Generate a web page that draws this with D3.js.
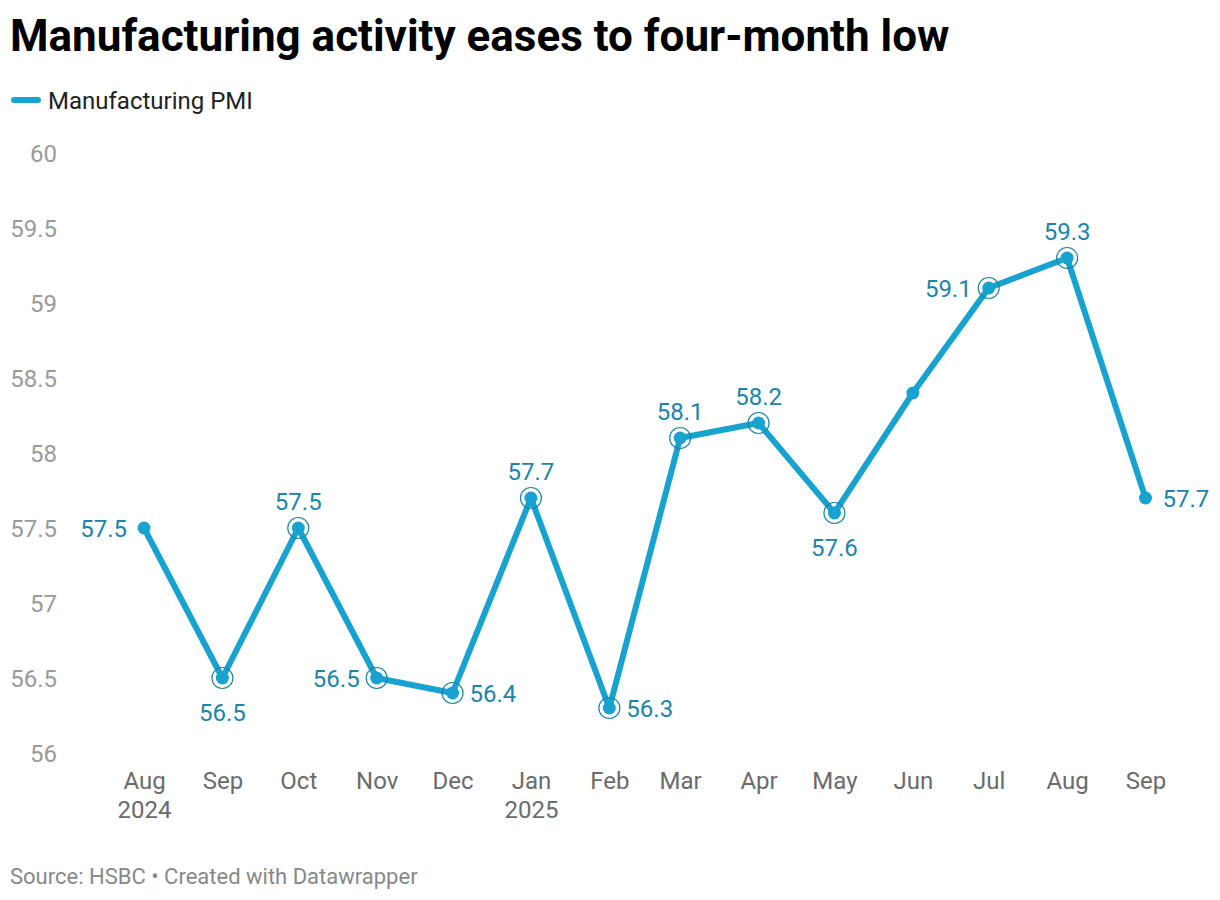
<!DOCTYPE html>
<html>
<head>
<meta charset="utf-8">
<script src="https://cdn.jsdelivr.net/npm/d3@7"></script>
<style>
  html, body { margin: 0; padding: 0; background: #fff; }
  svg { display: block; font-family: Roboto, "Noto Sans", sans-serif; }
</style>
</head>
<body>
<svg id="chart" width="1220" height="900"></svg>
<script>
// ---- data ----
const months = ["2024-08","2024-09","2024-10","2024-11","2024-12","2025-01","2025-02","2025-03","2025-04","2025-05","2025-06","2025-07","2025-08","2025-09"];
const pmi = [57.5, 56.5, 57.5, 56.5, 56.4, 57.7, 56.3, 58.1, 58.2, 57.6, 58.4, 59.1, 59.3, 57.7];
// label placement per point ("" = no label)
const labelPos = ["left","below","above","left","right","above","right","above","above","below","","left","above","right"];
// points highlighted with an outer ring
const ringed = [false,true,true,true,true,true,true,true,true,true,false,true,true,false];
const xTickLabels = [["Aug","2024"],["Sep"],["Oct"],["Nov"],["Dec"],["Jan","2025"],["Feb"],["Mar"],["Apr"],["May"],["Jun"],["Jul"],["Aug"],["Sep"]];
const yTicks = [56, 56.5, 57, 57.5, 58, 58.5, 59, 59.5, 60];
const title = "Manufacturing activity eases to four-month low";
const legendLabel = "Manufacturing PMI";
const footer = "Source: HSBC \u2022 Created with Datawrapper";

const parse = d3.timeParse("%Y-%m");
const data = months.map((m, i) => ({ date: parse(m), value: pmi[i], pos: labelPos[i], ring: ringed[i] }));

const lineColor = "#18a2cf";
const labelColor = "#1b84a8";

const svg = d3.select("#chart");

// title
svg.append("text").attr("x", 10).attr("y", 51)
  .attr("font-size", 44).attr("font-weight", 700).attr("fill", "#000")
  .text(title);

// legend
svg.append("line").attr("x1", 14).attr("x2", 38).attr("y1", 100).attr("y2", 100)
  .attr("stroke", lineColor).attr("stroke-width", 6).attr("stroke-linecap", "round");
svg.append("text").attr("x", 48).attr("y", 109)
  .attr("font-size", 24).attr("fill", "#222").text(legendLabel);

// scales
const x = d3.scaleTime().domain([data[0].date, data[data.length - 1].date]).range([144, 1145.5]);
const y = d3.scaleLinear().domain([56, 60]).range([753, 153]);

// y axis
const yAxis = d3.axisLeft(y).tickValues(yTicks).tickSize(0).tickPadding(0).tickFormat(d3.format("~g"));
const gy = svg.append("g").attr("transform", "translate(57,0)").call(yAxis);
gy.select(".domain").remove();
gy.selectAll("text").attr("font-size", 24).attr("fill", "#9a9a9a")
  .attr("font-family", "Roboto, sans-serif").attr("dy", "0.35em");

// x axis
const xAxis = d3.axisBottom(x).tickValues(data.map(d => d.date)).tickSize(0).tickFormat("");
const gx = svg.append("g").attr("transform", "translate(0,772)").call(xAxis);
gx.select(".domain").remove();
gx.selectAll(".tick").each(function(d, i) {
  const t = d3.select(this);
  t.select("text").remove();
  const txt = t.append("text").attr("text-anchor", "middle").attr("font-size", 24)
    .attr("fill", "#6b6b6b").attr("font-family", "Roboto, sans-serif");
  xTickLabels[i].forEach((s, k) => {
    txt.append("tspan").attr("x", 0).attr("y", 17 + k * 29).text(s);
  });
});

// line
const line = d3.line().x(d => x(d.date)).y(d => y(d.value));
svg.append("path").datum(data).attr("d", line)
  .attr("fill", "none").attr("stroke", lineColor).attr("stroke-width", 6)
  .attr("stroke-linejoin", "round").attr("stroke-linecap", "round");

// rings
svg.selectAll("circle.ring").data(data.filter(d => d.ring)).join("circle")
  .attr("class", "ring")
  .attr("cx", d => x(d.date)).attr("cy", d => y(d.value)).attr("r", 10.5)
  .attr("fill", "none").attr("stroke", labelColor).attr("stroke-width", 1.2);

// dots
svg.selectAll("circle.dot").data(data).join("circle")
  .attr("class", "dot")
  .attr("cx", d => x(d.date)).attr("cy", d => y(d.value)).attr("r", 6.5)
  .attr("fill", lineColor);

// labels
const fmt = d3.format(".1f");
svg.selectAll("text.vlab").data(data.filter(d => d.pos)).join("text")
  .attr("class", "vlab")
  .attr("font-size", 24).attr("fill", labelColor)
  .attr("x", d => {
    const cx = x(d.date);
    if (d.pos === "left") return cx - 17;
    if (d.pos === "right") return cx + 17;
    return cx;
  })
  .attr("y", d => {
    const cy = y(d.value);
    if (d.pos === "above") return cy - 18;
    if (d.pos === "below") return cy + 43;
    return cy + 8.5;
  })
  .attr("text-anchor", d => d.pos === "left" ? "end" : d.pos === "right" ? "start" : "middle")
  .text(d => fmt(d.value));

// footer
svg.append("text").attr("x", 10).attr("y", 884)
  .attr("font-size", 22).attr("fill", "#888").text(footer);
</script>
</body>
</html>
